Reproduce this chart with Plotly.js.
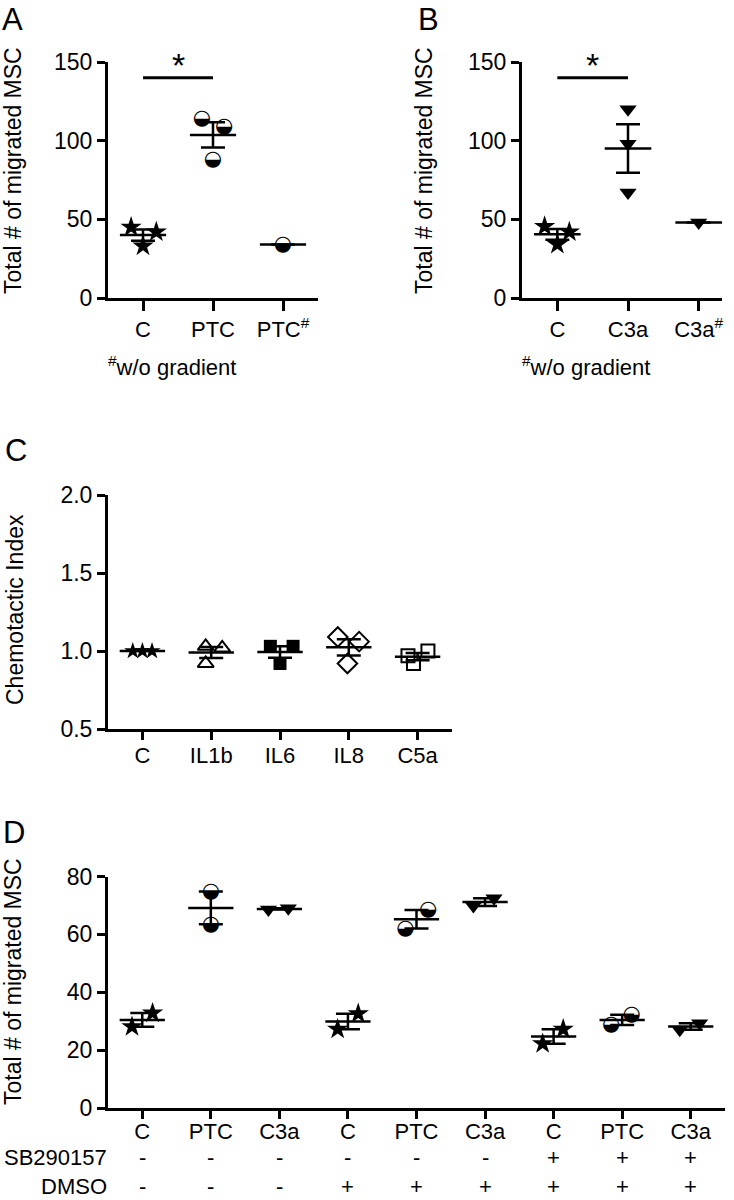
<!DOCTYPE html>
<html>
<head>
<meta charset="utf-8">
<script src="https://cdn.plot.ly/plotly-3.0.1.min.js"></script>
<style>html,body{margin:0;padding:0;background:#fff;}#chart{width:734px;height:1200px;}</style>
</head>
<body>
<div id="chart"></div>
<script>
// ---------- DATA ----------
// Panel A
const catsA = ['C', 'PTC', 'PTC<sup>#</sup>'];
const A_C = [45, 42, 33];
const A_PTC = [114, 109, 88];
const A_PTCnoGrad = [34];
const sigA = {from: 0, to: 1, y: 140, label: '*'};

// Panel B
const catsB = ['C', 'C3a', 'C3a<sup>#</sup>'];
const B_C = [45.5, 42, 34];
const B_C3a = [120, 98, 67];
const B_C3anoGrad = [48];
const sigB = {from: 0, to: 1, y: 140, label: '*'};

// Panel C
const catsC = ['C', 'IL1b', 'IL6', 'IL8', 'C5a'];
const C_C = [1.0, 1.0, 1.0];
const C_IL1b = [1.03, 1.02, 0.92];
const C_IL6 = [1.03, 1.03, 0.92];
const C_IL8 = [1.09, 1.06, 0.92];
const C_C5a = [0.97, 1.00, 0.92];

// Panel D
const catsD = ['C', 'PTC', 'C3a', 'C', 'PTC', 'C3a', 'C', 'PTC', 'C3a'];
const D_vals = [
  [28.1, 32.8], [74.8, 63.5], [68.6, 69.0],
  [27.2, 32.6], [62.0, 68.4], [69.8, 72.5],
  [22.2, 27.2], [28.7, 32.2], [27.0, 29.3]
];
const sbRow = ['-', '-', '-', '-', '-', '-', '+', '+', '+'];
const dmsoRow = ['-', '-', '-', '+', '+', '+', '+', '+', '+'];
const rowLabels = ['SB290157', 'DMSO'];

const yTitleMig = 'Total # of migrated MSC';
const yTitleChemo = 'Chemotactic Index';
const noGradNote = '<sup>#</sup>w/o gradient';

// ---------- LAYOUT HELPERS (positions / styles) ----------
const W = 734, H = 1200;
const FONT = 'Liberation Sans, Arial, Helvetica, sans-serif';
const px = v => v / W;
const py = v => 1 - v / H;

const offsA = [[-0.17, 0.19, 0], [-0.16, 0.16, 0], [0]];
const offsB = [[-0.18, 0.17, 0], [0, 0, 0], [0]];
const offsC = [[-0.14, 0, 0.14], [-0.08, 0.16, -0.08], [-0.14, 0.19, 0], [-0.16, 0.15, -0.02], [-0.14, 0.15, -0.06]];
const offsD = [[-0.15, 0.15], [0, 0], [-0.16, 0.13], [-0.15, 0.15], [-0.16, 0.17], [-0.17, 0.13], [-0.16, 0.14], [-0.16, 0.14], [-0.16, 0.13]];

const mean = a => a.reduce((s, v) => s + v, 0) / a.length;
const sem = a => {
  if (a.length < 2) return 0;
  const m = mean(a);
  const sd = Math.sqrt(a.reduce((s, v) => s + (v - m) * (v - m), 0) / (a.length - 1));
  return sd / Math.sqrt(a.length);
};

const traces = [];

function markerStyle(kind) {
  switch (kind) {
    case 'star': return {symbol: 'star', size: 16, color: 'black', line: {width: 0}};
    case 'starS': return {symbol: 'star', size: 13, color: 'black', line: {width: 0}};
    case 'tri': return {symbol: 'triangle-down', size: 15, color: 'black', line: {width: 0}};
    case 'triOpen': return {symbol: 'triangle-up-open', size: 14, color: 'black', line: {width: 2, color: 'black'}};
    case 'sq': return {symbol: 'square', size: 13, color: 'black', line: {width: 0}};
    case 'dia': return {symbol: 'diamond-open', size: 15, color: 'black', line: {width: 2, color: 'black'}};
    case 'sqOpen': return {symbol: 'square-open', size: 13, color: 'black', line: {width: 2, color: 'black'}};
  }
}

function addPanel(xa, ya, groups, offs, kinds) {
  const ax = 'x' + xa, ay = 'y' + ya;
  traces.push({
    type: 'scatter', mode: 'markers', xaxis: ax, yaxis: ay, hoverinfo: 'skip',
    x: groups.map((g, i) => i), y: groups.map(mean),
    marker: {size: 1, color: 'rgba(0,0,0,0)'},
    error_x: {type: 'constant', value: 0.33, width: 0, thickness: 2.5, color: 'black'},
    error_y: {type: 'data', array: groups.map(sem), symmetric: true, width: 12, thickness: 2.5, color: 'black'}
  });
  groups.forEach((g, i) => {
    const xs = g.map((v, j) => i + offs[i][j]);
    if (kinds[i] === 'half') {
      traces.push({
        type: 'scatter', mode: 'text', xaxis: ax, yaxis: ay, hoverinfo: 'skip',
        x: xs, y: g, text: g.map(() => '\u25D2'), textposition: 'middle center',
        textfont: {family: 'DejaVu Sans', size: 21, color: 'black'}, cliponaxis: false
      });
    } else {
      traces.push({
        type: 'scatter', mode: 'markers', xaxis: ax, yaxis: ay, hoverinfo: 'skip',
        x: xs, y: g, marker: markerStyle(kinds[i]), cliponaxis: false
      });
    }
  });
}

addPanel('', '', [A_C, A_PTC, A_PTCnoGrad], offsA, ['star', 'half', 'half']);
addPanel('2', '2', [B_C, B_C3a, B_C3anoGrad], offsB, ['star', 'tri', 'tri']);
addPanel('3', '3', [C_C, C_IL1b, C_IL6, C_IL8, C_C5a], offsC, ['starS', 'triOpen', 'sq', 'dia', 'sqOpen']);
addPanel('4', '4', D_vals, offsD, ['star', 'half', 'tri', 'star', 'half', 'tri', 'star', 'half', 'tri']);

const tickFont = {family: FONT, size: 22, color: 'black'};
function xAxis(x0, x1, cats, anchor, ticklen, rangeEnd, standoff) {
  return {
    domain: [px(x0), px(x1)], anchor: anchor,
    range: [-0.5, rangeEnd], tickmode: 'array', tickvals: cats.map((c, i) => i), ticktext: cats,
    showline: true, linewidth: 3, linecolor: 'black', mirror: false,
    ticks: 'outside', ticklen: ticklen, tickwidth: 3, tickcolor: 'black', ticklabelstandoff: standoff,
    tickfont: tickFont, showgrid: false, zeroline: false, fixedrange: true
  };
}
function yAxis(topPx, botPx, range, tickvals, anchor, fmt) {
  return {
    domain: [py(botPx), py(topPx)], anchor: anchor, range: range,
    tickmode: 'array', tickvals: tickvals, tickformat: fmt || '',
    showline: true, linewidth: 3, linecolor: 'black',
    ticks: 'outside', ticklen: 8, tickwidth: 3, tickcolor: 'black',
    tickfont: {family: FONT, size: 23, color: 'black'}, showgrid: false, zeroline: false, fixedrange: true
  };
}

const annotations = [];
function letter(t, x, yc) {
  annotations.push({text: t, xref: 'paper', yref: 'paper', x: px(x), y: py(yc), xanchor: 'left', yanchor: 'middle',
    showarrow: false, font: {family: FONT, size: 31, color: 'black'}});
}
letter('A', 0, 19); letter('B', 416, 19); letter('C', 3, 450); letter('D', 1, 832);

function yTitle(t, x, yc) {
  annotations.push({text: t, xref: 'paper', yref: 'paper', x: px(x), y: py(yc), xanchor: 'center', yanchor: 'middle',
    textangle: -90, showarrow: false, font: {family: FONT, size: 23, color: 'black'}});
}
yTitle(yTitleMig, 13, 171); yTitle(yTitleMig, 424, 171); yTitle(yTitleChemo, 15, 610); yTitle(yTitleMig, 13, 982);

function note(x) {
  annotations.push({text: noGradNote, xref: 'paper', yref: 'paper', x: px(x), y: py(366), xanchor: 'left', yanchor: 'middle',
    showarrow: false, font: {family: FONT, size: 22, color: 'black'}});
}
note(106); note(520);

const shapes = [];
[[sigA, ''], [sigB, '2']].forEach(([s, n]) => {
  shapes.push({type: 'line', xref: 'x' + n, yref: 'y' + n, x0: s.from, x1: s.to, y0: s.y, y1: s.y,
    line: {color: 'black', width: 3}});
  annotations.push({text: s.label, xref: 'x' + n, yref: 'y' + n, x: (s.from + s.to) / 2, y: s.y + 8,
    xanchor: 'center', yanchor: 'middle', showarrow: false, font: {family: FONT, size: 34, color: 'black'}});
});

// Panel D treatment rows
[[sbRow, 1157], [dmsoRow, 1186]].forEach(([row, yc], r) => {
  row.forEach((s, i) => {
    annotations.push({text: s, xref: 'x4', yref: 'paper', x: i, y: py(yc), xanchor: 'center', yanchor: 'middle',
      showarrow: false, font: {family: FONT, size: 22, color: 'black'}});
  });
  annotations.push({text: rowLabels[r], xref: 'paper', yref: 'paper', x: px(109), y: py(yc), xanchor: 'right', yanchor: 'middle',
    showarrow: false, font: {family: FONT, size: 22, color: 'black'}});
});

const layout = {
  width: W, height: H, margin: {l: 0, r: 0, t: 0, b: 0},
  paper_bgcolor: 'white', plot_bgcolor: 'white', showlegend: false,
  xaxis: xAxis(108, 318, catsA, 'y', 10, 2.5, 0),
  yaxis: yAxis(62, 298, [0, 150], [0, 50, 100, 150], 'x'),
  xaxis2: xAxis(522, 722, catsB, 'y2', 10, 2.33, 0),
  yaxis2: yAxis(62, 298, [0, 150], [0, 50, 100, 150], 'x2'),
  xaxis3: xAxis(108, 452, catsC, 'y3', 8, 4.5, -3),
  yaxis3: yAxis(495, 729, [0.5, 2.0], [0.5, 1.0, 1.5, 2.0], 'x3', '.1f'),
  xaxis4: xAxis(108, 725, catsD, 'y4', 8, 8.5, -6),
  yaxis4: yAxis(876.5, 1108, [0, 80], [0, 20, 40, 60, 80], 'x4'),
  annotations: annotations, shapes: shapes
};

Plotly.newPlot('chart', traces, layout, {staticPlot: true, displayModeBar: false});
</script>
</body>
</html>
